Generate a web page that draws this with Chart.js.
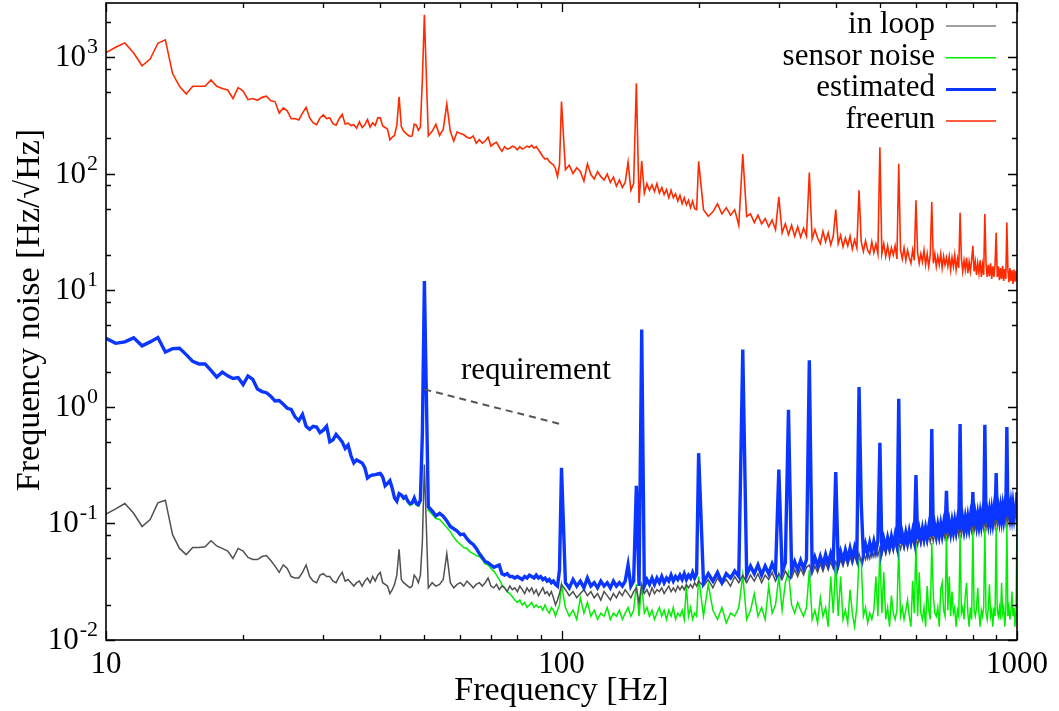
<!DOCTYPE html>
<html>
<head>
<meta charset="utf-8">
<script src="https://cdn.jsdelivr.net/npm/chart.js@4.4.0/dist/chart.umd.min.js"></script>
<style>
  html, body { margin: 0; padding: 0; background: #fff; }
  #wrap { width: 1059px; height: 711px; }
</style>
</head>
<body>
<div id="wrap"><canvas id="noiseChart" width="1059" height="711"></canvas></div>
<script>
// frequency grid [Hz]: 0.5 Hz to 50, 1 Hz to 100, 2 Hz to 200, 5 Hz to 1000
const freq = [
  10,10.5,11,11.5,12,12.5,13,13.5,14,14.5,
  15,15.5,16,16.5,17,17.5,18,18.5,19,19.5,
  20,20.5,21,21.5,22,22.5,23,23.5,24,24.5,
  25,25.5,26,26.5,27,27.5,28,28.5,29,29.5,
  30,30.5,31,31.5,32,32.5,33,33.5,34,34.5,
  35,35.5,36,36.5,37,37.5,38,38.5,39,39.5,
  40,40.5,41,41.5,42,42.5,43,43.5,44,44.5,
  45,45.5,46,46.5,47,47.5,48,48.5,49,49.5,
  50,
  51,52,53,54,55,56,57,58,59,60,
  61,62,63,64,65,66,67,68,69,70,
  71,72,73,74,75,76,77,78,79,80,
  81,82,83,84,85,86,87,88,89,90,
  91,92,93,94,95,96,97,98,99,100,
  102,104,106,108,110,112,114,116,118,120,
  122,124,126,128,130,132,134,136,138,140,
  142,144,146,148,150,152,154,156,158,160,
  162,164,166,168,170,172,174,176,178,180,
  182,184,186,188,190,192,194,196,198,200,
  205,210,215,220,225,230,235,240,245,250,
  255,260,265,270,275,280,285,290,295,300,
  305,310,315,320,325,330,335,340,345,350,
  355,360,365,370,375,380,385,390,395,400,
  405,410,415,420,425,430,435,440,445,450,
  455,460,465,470,475,480,485,490,495,500,
  505,510,515,520,525,530,535,540,545,550,
  555,560,565,570,575,580,585,590,595,600,
  605,610,615,620,625,630,635,640,645,650,
  655,660,665,670,675,680,685,690,695,700,
  705,710,715,720,725,730,735,740,745,750,
  755,760,765,770,775,780,785,790,795,800,
  805,810,815,820,825,830,835,840,845,850,
  855,860,865,870,875,880,885,890,895,900,
  905,910,915,920,925,930,935,940,945,950,
  955,960,965,970,975,980,985,990,995,1000
];

const inLoop = [
  0.120,0.133,0.148,0.122,0.094,0.108,0.150,0.158,0.080,0.061,
  0.054,0.062,0.062,0.063,0.071,0.064,0.061,0.058,0.050,0.061,
  0.058,0.051,0.049,0.049,0.052,0.053,0.048,0.043,0.038,0.044,
  0.041,0.035,0.034,0.034,0.038,0.044,0.035,0.032,0.031,0.036,
  0.037,0.035,0.035,0.032,0.031,0.035,0.038,0.032,0.033,0.031,
  0.029,0.031,0.032,0.029,0.032,0.034,0.031,0.035,0.032,0.036,
  0.038,0.031,0.030,0.029,0.025,0.027,0.030,0.036,0.060,0.033,
  0.031,0.030,0.029,0.028,0.029,0.036,0.034,0.031,0.036,0.070,
  0.32,
  0.028,0.031,0.029,0.030,0.033,0.055,0.031,0.028,0.030,0.031,
  0.029,0.032,0.030,0.028,0.030,0.031,0.029,0.031,0.034,0.029,
  0.028,0.030,0.027,0.029,0.028,0.026,0.029,0.027,0.028,0.026,
  0.029,0.027,0.025,0.028,0.026,0.028,0.025,0.027,0.024,0.026,
  0.028,0.025,0.026,0.024,0.026,0.023,0.020,0.022,0.025,0.030,
  0.027,0.024,0.026,0.023,0.025,0.027,0.024,0.026,0.023,0.025,
  0.022,0.026,0.024,0.022,0.025,0.023,0.026,0.024,0.027,0.025,
  0.023,0.026,0.028,0.021,0.030,0.025,0.027,0.024,0.028,0.025,
  0.027,0.026,0.028,0.025,0.027,0.029,0.026,0.028,0.026,0.029,
  0.027,0.029,0.027,0.030,0.028,0.030,0.028,0.031,0.029,0.032,
  0.029,0.033,0.028,0.034,0.030,0.033,0.029,0.035,0.031,0.036,
  0.031,0.036,0.032,0.037,0.031,0.036,0.033,0.038,0.032,0.037,
  0.033,0.039,0.035,0.034,0.040,0.035,0.041,0.036,0.042,0.044,
  0.037,0.043,0.038,0.045,0.039,0.046,0.040,0.047,0.041,0.047,
  0.041,0.049,0.043,0.051,0.044,0.052,0.045,0.053,0.046,0.055,
  0.047,0.056,0.049,0.058,0.050,0.059,0.052,0.061,0.053,0.062,
  0.054,0.063,0.055,0.065,0.056,0.066,0.058,0.068,0.059,0.069,
  0.060,0.070,0.061,0.072,0.062,0.073,0.063,0.074,0.064,0.075,
  0.065,0.076,0.066,0.078,0.067,0.079,0.068,0.080,0.069,0.081,
  0.070,0.082,0.071,0.084,0.072,0.085,0.073,0.086,0.074,0.087,
  0.075,0.088,0.076,0.090,0.077,0.091,0.078,0.092,0.079,0.093,
  0.080,0.095,0.081,0.096,0.082,0.097,0.083,0.099,0.085,0.100,
  0.086,0.101,0.087,0.103,0.088,0.104,0.089,0.105,0.090,0.107,
  0.091,0.108,0.092,0.110,0.093,0.111,0.094,0.113,0.095,0.114,
  0.096,0.116,0.098,0.117,0.099,0.119,0.100,0.120,0.101,0.122,
  0.102,0.124,0.104,0.125,0.105,0.127,0.106,0.129,0.108,0.130
];

const sensorNoise = [
  3.87,3.5,3.6,3.9,3.33,3.6,3.92,2.95,3.15,3.17,
  2.8,2.45,2.33,2.33,2.05,1.8,1.98,1.84,1.75,1.78,
  1.55,1.84,1.72,1.42,1.35,1.32,1.23,1.12,1.13,1.05,
  0.97,0.95,0.82,0.76,0.86,0.68,0.64,0.68,0.67,0.6,
  0.63,0.68,0.5,0.52,0.58,0.54,0.5,0.44,0.47,0.38,
  0.33,0.35,0.34,0.33,0.3,0.245,0.255,0.26,0.262,0.265,
  0.268,0.25,0.21,0.22,0.232,0.2,0.165,0.155,0.18,0.175,
  0.16,0.165,0.15,0.143,0.145,0.16,0.143,0.14,0.152,0.5,
  11,
  0.13,0.12,0.11,0.108,0.1,0.092,0.085,0.076,0.07,0.066,
  0.062,0.061,0.057,0.055,0.053,0.052,0.049,0.045,0.044,0.041,
  0.039,0.036,0.033,0.030,0.028,0.026,0.025,0.0235,0.022,0.021,
  0.022,0.020,0.021,0.019,0.020,0.021,0.019,0.020,0.019,0.0195,
  0.018,0.020,0.018,0.017,0.019,0.018,0.016,0.018,0.020,0.030,
  0.019,0.016,0.018,0.015,0.023,0.017,0.021,0.016,0.018,0.015,
  0.017,0.016,0.019,0.015,0.017,0.016,0.018,0.015,0.017,0.019,
  0.016,0.018,0.030,0.016,0.030,0.017,0.019,0.016,0.018,0.015,
  0.017,0.019,0.016,0.018,0.015,0.018,0.016,0.019,0.015,0.017,
  0.016,0.018,0.015,0.029,0.016,0.019,0.015,0.017,0.016,0.035,
  0.016,0.030,0.018,0.015,0.019,0.014,0.017,0.016,0.019,0.036,
  0.015,0.018,0.025,0.016,0.019,0.015,0.029,0.017,0.020,0.035,
  0.018,0.031,0.038,0.020,0.017,0.021,0.018,0.016,0.019,0.040,
  0.015,0.018,0.014,0.023,0.016,0.019,0.013,0.035,0.017,0.046,
  0.016,0.035,0.015,0.018,0.014,0.027,0.017,0.013,0.019,0.050,
  0.048,0.016,0.019,0.014,0.017,0.015,0.018,0.035,0.016,0.060,
  0.017,0.038,0.015,0.019,0.013,0.024,0.017,0.015,0.018,0.062,
  0.016,0.019,0.015,0.018,0.022,0.016,0.013,0.032,0.017,0.068,
  0.016,0.038,0.017,0.015,0.019,0.013,0.029,0.018,0.015,0.068,
  0.024,0.017,0.016,0.019,0.013,0.027,0.031,0.018,0.016,0.077,
  0.018,0.035,0.016,0.026,0.017,0.019,0.013,0.018,0.016,0.080,
  0.017,0.019,0.015,0.024,0.031,0.017,0.013,0.019,0.015,0.088,
  0.018,0.016,0.019,0.028,0.017,0.013,0.018,0.016,0.019,0.090,
  0.017,0.015,0.019,0.030,0.016,0.018,0.013,0.019,0.016,0.092,
  0.018,0.016,0.019,0.015,0.031,0.017,0.019,0.013,0.018,0.100,
  0.016,0.019,0.015,0.018,0.026,0.016,0.019,0.013,0.018,0.110
];

const estimated = [
  3.87,3.5,3.6,3.9,3.33,3.6,3.92,2.95,3.15,3.17,
  2.8,2.45,2.33,2.33,2.05,1.8,1.98,1.84,1.75,1.78,
  1.55,1.84,1.72,1.42,1.35,1.32,1.23,1.12,1.13,1.05,
  0.97,0.95,0.82,0.76,0.86,0.68,0.64,0.68,0.67,0.6,
  0.63,0.68,0.5,0.52,0.58,0.54,0.5,0.44,0.47,0.38,
  0.33,0.35,0.34,0.33,0.3,0.245,0.255,0.26,0.262,0.265,
  0.268,0.25,0.21,0.22,0.232,0.2,0.165,0.155,0.18,0.175,
  0.165,0.17,0.155,0.148,0.15,0.165,0.148,0.145,0.158,0.6,
  12,
  0.139,0.128,0.116,0.122,0.115,0.105,0.094,0.09,0.086,0.08,
  0.081,0.074,0.069,0.066,0.061,0.055,0.051,0.047,0.046,0.044,
  0.042,0.043,0.044,0.037,0.036,0.037,0.035,0.035,0.034,0.035,
  0.034,0.033,0.035,0.034,0.036,0.035,0.034,0.036,0.034,0.035,
  0.033,0.034,0.032,0.033,0.031,0.032,0.030,0.029,0.040,0.30,
  0.031,0.028,0.033,0.029,0.032,0.028,0.034,0.029,0.031,0.028,
  0.032,0.029,0.031,0.028,0.032,0.029,0.031,0.029,0.032,0.044,
  0.029,0.032,0.21,0.029,4.6,0.029,0.033,0.030,0.034,0.030,
  0.034,0.031,0.035,0.031,0.034,0.032,0.036,0.032,0.035,0.033,
  0.036,0.033,0.037,0.033,0.036,0.034,0.038,0.034,0.037,0.40,
  0.031,0.037,0.032,0.038,0.031,0.037,0.034,0.039,0.035,3.1,
  0.036,0.043,0.037,0.044,0.036,0.043,0.037,0.045,0.038,0.29,
  0.038,0.046,0.94,0.039,0.047,0.040,0.048,0.041,0.049,2.5,
  0.042,0.051,0.043,0.052,0.044,0.054,0.045,0.055,0.046,0.275,
  0.046,0.057,0.048,0.059,0.049,0.061,0.050,0.062,0.052,1.48,
  0.15,0.054,0.066,0.055,0.068,0.057,0.070,0.058,0.071,0.49,
  0.060,0.073,0.061,0.075,0.063,0.077,0.064,0.079,0.066,1.17,
  0.067,0.081,0.068,0.083,0.069,0.085,0.071,0.086,0.072,0.26,
  0.073,0.088,0.074,0.090,0.075,0.091,0.076,0.093,0.077,0.645,
  0.078,0.095,0.079,0.096,0.080,0.098,0.081,0.099,0.082,0.19,
  0.083,0.101,0.084,0.103,0.086,0.105,0.087,0.106,0.088,0.71,
  0.089,0.109,0.090,0.110,0.092,0.112,0.093,0.114,0.094,0.186,
  0.095,0.116,0.097,0.118,0.098,0.120,0.099,0.121,0.100,0.70,
  0.101,0.124,0.103,0.126,0.104,0.128,0.105,0.130,0.107,0.27,
  0.108,0.132,0.110,0.134,0.111,0.136,0.112,0.138,0.114,0.67,
  0.115,0.141,0.117,0.143,0.118,0.145,0.120,0.147,0.121,0.186
];

const freerun = [
  1090,1210,1320,1080,840,960,1310,1400,720,560,
  480,560,560,560,635,560,535,520,440,545,
  510,430,440,425,450,460,420,414,330,365,
  345,295,296,288,330,370,300,272,263,300,
  318,296,300,268,260,295,322,266,270,258,
  262,245,278,248,262,290,250,272,258,300,
  300,256,248,240,195,205,212,260,455,253,
  232,222,214,208,210,265,260,235,250,650,
  2300,
  210,230,265,212,240,395,230,190,228,220,
  215,205,200,210,182,195,182,190,205,172,
  180,185,168,155,170,162,165,172,168,160,
  170,162,166,172,168,175,165,170,160,150,
  140,133,135,127,122,119,110,94,120,415,
  108,118,100,112,104,86,121,98,90,104,
  94,88,99,84,93,78,88,76,84,125,
  72,82,595,56,128,68,82,72,80,70,
  82,68,76,66,73,62,72,62,67,58,
  65,55,62,54,59,51,58,50,49,127,
  49,43,47,55,45,51,44,49,36,147,
  43,45,38,44,37,41,35,40,33,63,
  31,37,30,36,29,35,28.5,34,29,102,
  27.5,33,28,25,32,26,31,24.5,29,49,
  25,29.5,23.5,28,24,29,22.5,27,23,72,
  26,21.5,26.5,22,20.5,26,21,25,20.5,168,
  20.5,25,19.5,24,19,23,20,24,18.5,121,
  22,18.5,23,18,22,19,17,22,18,59,
  21,17,20.5,17.5,22,16.5,20.5,16,20,57,
  17,20.5,16,19.5,16.5,20.5,15.5,19.5,16.5,19,
  16,19.5,15,19,16,20,15,18.5,15.5,46,
  18.5,14.5,18,15,19,14,17.5,14.5,18,24,
  14.5,17.5,13.5,17,14,18,13,16.5,13.5,45,
  17,13,16.5,13.2,17,12.5,16,13,16.5,31,
  13,16,12.2,15.5,12.5,16.2,12,15.2,12.5,38,
  15,11.7,15.5,12,14.8,11.3,15,11.8,14.6,12
];

// requirement line (dashed)
const requirementFreq = [50, 100];
const requirementVal = [1.41, 0.707];

// axis ticks
const xMajorTicks = [10, 100, 1000];
const xTickLabels = ["10", "100", "1000"];
const xMinorTicks = [20, 30, 40, 50, 60, 70, 80, 90, 200, 300, 400, 500, 600, 700, 800, 900];
const yMajorTicks = [0.01, 0.1, 1, 10, 100, 1000];
const yTickExponents = ["-2", "-1", "0", "1", "2", "3"];
const yMinorTicks = [0.02, 0.05, 0.079, 0.2, 0.5, 0.79, 2, 5, 7.9, 20, 50, 79, 200, 500, 790, 2000];

const legendLabels = ["in loop", "sensor noise", "estimated", "freerun"];
const lineColors = ["#505050", "#00ee00", "#0a36ff", "#ff2a00"];
const legendColors = ["#808080", "#00ee00", "#0a36ff", "#ff2a00"];
const legendWidths = [1.5, 1.5, 3, 1.5];

const SERIF = '"Liberation Serif", "Times New Roman", serif';

function toPoints(xs, ys) {
  if (xs.length !== ys.length) console.warn("length mismatch", xs.length, ys.length);
  return xs.map((f, i) => ({ x: f, y: ys[i] }));
}

// gnuplot-like frame: inward ticks on all four sides, labels, legend
const framePlugin = {
  id: "gnuplotFrame",
  afterDatasetsDraw(chart) {
    const { ctx, chartArea: area, scales } = chart;
    const xs = scales.x;
    const ys = scales.y;
    ctx.save();
    ctx.strokeStyle = "#000";
    ctx.lineWidth = 1.3;

    const xTick = (v, len) => {
      const px = Math.round(xs.getPixelForValue(v)) + 0.5;
      ctx.beginPath();
      ctx.moveTo(px, area.bottom);
      ctx.lineTo(px, area.bottom - len);
      ctx.moveTo(px, area.top);
      ctx.lineTo(px, area.top + len);
      ctx.stroke();
    };
    const yTick = (v, len) => {
      const py = Math.round(ys.getPixelForValue(v)) + 0.5;
      ctx.beginPath();
      ctx.moveTo(area.left, py);
      ctx.lineTo(area.left + len, py);
      ctx.moveTo(area.right, py);
      ctx.lineTo(area.right - len, py);
      ctx.stroke();
    };
    xMinorTicks.forEach((v) => xTick(v, 5));
    xMajorTicks.forEach((v) => xTick(v, 9));
    yMinorTicks.forEach((v) => yTick(v, 5));
    yMajorTicks.forEach((v) => yTick(v, 9));

    ctx.lineWidth = 1.6;
    ctx.strokeRect(area.left, area.top, area.right - area.left, area.bottom - area.top);

    // tick labels
    ctx.fillStyle = "#000";
    ctx.textBaseline = "alphabetic";
    ctx.font = "31px " + SERIF;
    ctx.textAlign = "center";
    xMajorTicks.forEach((v, i) => {
      ctx.fillText(xTickLabels[i], xs.getPixelForValue(v), area.bottom + 33);
    });

    const labelRight = area.left - 8;
    yMajorTicks.forEach((v, i) => {
      const py = ys.getPixelForValue(v);
      ctx.font = "22px " + SERIF;
      const supW = ctx.measureText(yTickExponents[i]).width;
      ctx.textAlign = "left";
      ctx.fillText(yTickExponents[i], labelRight - supW, py - 4);
      ctx.font = "31px " + SERIF;
      ctx.textAlign = "right";
      ctx.fillText("10", labelRight - supW - 1, py + 9);
    });

    // axis titles
    ctx.font = "34px " + SERIF;
    ctx.textAlign = "center";
    ctx.fillText("Frequency [Hz]", (area.left + area.right) / 2, 700);
    ctx.save();
    ctx.translate(39, 310);
    ctx.rotate(-Math.PI / 2);
    ctx.fillText("Frequency noise [Hz/\u221AHz]", 0, 0);
    ctx.restore();

    // requirement label
    ctx.font = "31px " + SERIF;
    ctx.textAlign = "left";
    ctx.fillText("requirement", 461, 379);

    // legend
    const textRight = area.right - 82;
    legendLabels.forEach((label, i) => {
      const base = area.top + 30 + i * 31.7;
      ctx.textAlign = "right";
      ctx.fillStyle = "#000";
      ctx.fillText(label, textRight, base);
      ctx.strokeStyle = legendColors[i];
      ctx.lineWidth = legendWidths[i];
      ctx.beginPath();
      ctx.moveTo(area.right - 71, base - 7);
      ctx.lineTo(area.right - 21, base - 7);
      ctx.stroke();
    });
    ctx.restore();
  },
};

const lineStyle = (color, width, order) => ({
  borderColor: color,
  backgroundColor: color,
  borderWidth: width,
  pointRadius: 0,
  tension: 0,
  fill: false,
  order: order,
});

new Chart(document.getElementById("noiseChart"), {
  type: "line",
  data: {
    datasets: [
      { label: "in loop", data: toPoints(freq, inLoop), ...lineStyle(lineColors[0], 1.5, 3) },
      { label: "sensor noise", data: toPoints(freq, sensorNoise), ...lineStyle(lineColors[1], 1.5, 4) },
      { label: "estimated", data: toPoints(freq, estimated), ...lineStyle(lineColors[2], 3.4, 2) },
      { label: "freerun", data: toPoints(freq, freerun), ...lineStyle(lineColors[3], 1.6, 1) },
      {
        label: "requirement",
        data: toPoints(requirementFreq, requirementVal),
        ...lineStyle("#555555", 2, 0),
        borderDash: [7, 5],
      },
    ],
  },
  options: {
    responsive: false,
    animation: false,
    devicePixelRatio: 1,
    layout: { padding: { left: 106, right: 42, top: 3, bottom: 71 } },
    plugins: {
      legend: { display: false },
      tooltip: { enabled: false },
    },
    scales: {
      x: { type: "logarithmic", min: 10, max: 1000, display: false },
      y: { type: "logarithmic", min: 0.01, max: 2900, display: false },
    },
  },
  plugins: [framePlugin],
});
</script>
</body>
</html>
